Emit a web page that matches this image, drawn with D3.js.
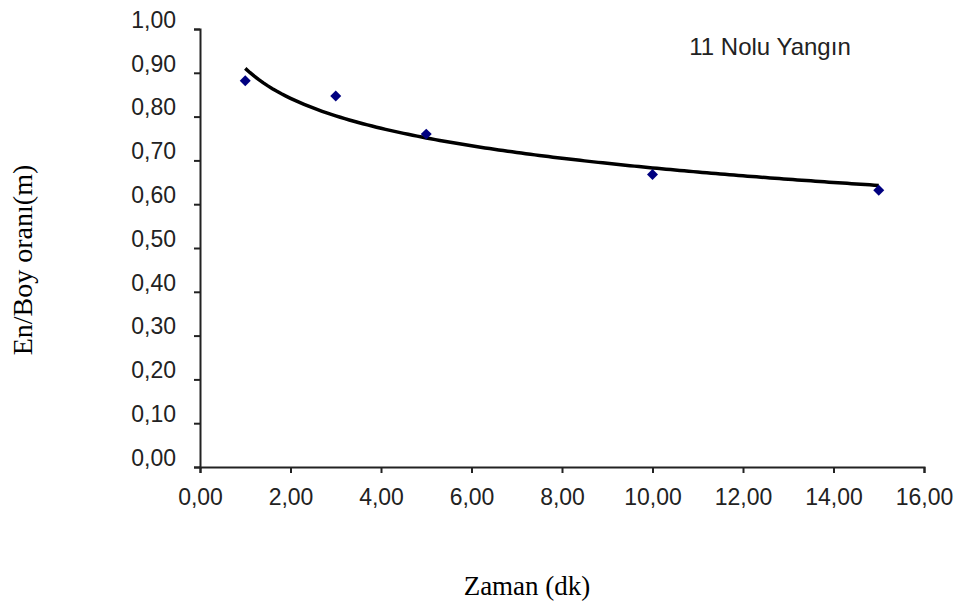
<!DOCTYPE html>
<html>
<head>
<meta charset="utf-8">
<script src="https://cdn.jsdelivr.net/npm/d3@7"></script>
<style>
    body { margin: 0; background: #fff; }
    .tick text { font-family: "Liberation Sans", Arial, sans-serif; font-size: 23px; fill: #222; }
    .axis-title { font-family: "Liberation Serif", "Times New Roman", serif; fill: #000; }
</style>
</head>
<body>
<svg id="chart" width="973" height="608"></svg>
<script>
/**
 * Data.
 */
const times = [1, 3, 5, 10, 15],          // Zaman (dk)
    ratios = [0.882, 0.847, 0.760, 0.668, 0.632]; // En/Boy oranı
const xTicks = [0, 2, 4, 6, 8, 10, 12, 14, 16],
    yTicks = [0, 0.1, 0.2, 0.3, 0.4, 0.5, 0.6, 0.7, 0.8, 0.9, 1.0];
const chartTitle = '11 Nolu Yangın',
    xTitle = 'Zaman (dk)',
    yTitle = 'En/Boy oranı(m)';

/**
 * Layout.
 */
const plot = { left: 200, right: 924, top: 29, bottom: 467 };
const fmt = v => d3.format('.2f')(v).replace('.', ',');

const svg = d3.select('#chart');

const xScale = d3.scaleLinear().domain([0, 16]).range([plot.left, plot.right]),
    yScale = d3.scaleLinear().domain([0, 1]).range([plot.bottom, plot.top]);

// Logarithmic trend line (least squares, y = a + b ln x)
const lx = times.map(Math.log),
    mx = d3.mean(lx), my = d3.mean(ratios),
    b = d3.sum(lx, (v, i) => (v - mx) * (ratios[i] - my)) / d3.sum(lx, v => (v - mx) * (v - mx)),
    a = my - b * mx;
const trendX = d3.range(times[0], times[times.length - 1] + 0.01, 0.1);

/**
 * Axes.
 */
const xAxis = svg.append('g')
    .attr('transform', 'translate(0,' + plot.bottom + ')')
    .call(d3.axisBottom(xScale).tickValues(xTicks).tickFormat(fmt).tickSize(6).tickSizeOuter(6));
xAxis.selectAll('text').attr('y', 22);

const yAxis = svg.append('g')
    .attr('transform', 'translate(' + plot.left + ',0)')
    .call(d3.axisLeft(yScale).tickValues(yTicks).tickFormat(fmt).tickSize(6).tickSizeOuter(6));
yAxis.selectAll('text').attr('x', -24).attr('dy', '0.32em').attr('transform', 'translate(0,-9)');

svg.selectAll('.domain, .tick line').attr('stroke', '#222').attr('stroke-width', 2);

/**
 * Trend line and points.
 */
svg.append('path')
    .datum(trendX)
    .attr('fill', 'none')
    .attr('stroke', '#000')
    .attr('stroke-width', 3.5)
    .attr('d', d3.line().x(d => xScale(d)).y(d => yScale(a + b * Math.log(d))));

svg.append('g').selectAll('path')
    .data(times)
    .join('path')
    .attr('transform', (d, i) => 'translate(' + xScale(d) + ',' + yScale(ratios[i]) + ') rotate(45)')
    .attr('d', d3.symbol().type(d3.symbolSquare).size(60))
    .attr('fill', '#000080');

/**
 * Texts.
 */
svg.append('text')
    .attr('x', 770).attr('y', 55)
    .attr('text-anchor', 'middle')
    .style('font-family', '"Liberation Sans", Arial, sans-serif')
    .style('font-size', '24px')
    .attr('fill', '#222')
    .text(chartTitle);

svg.append('text')
    .attr('class', 'axis-title')
    .attr('x', 527).attr('y', 595)
    .attr('text-anchor', 'middle')
    .style('font-size', '27px')
    .text(xTitle);

svg.append('text')
    .attr('class', 'axis-title')
    .attr('transform', 'translate(32,260) rotate(-90)')
    .attr('text-anchor', 'middle')
    .style('font-size', '28px')
    .text(yTitle);
</script>
</body>
</html>
